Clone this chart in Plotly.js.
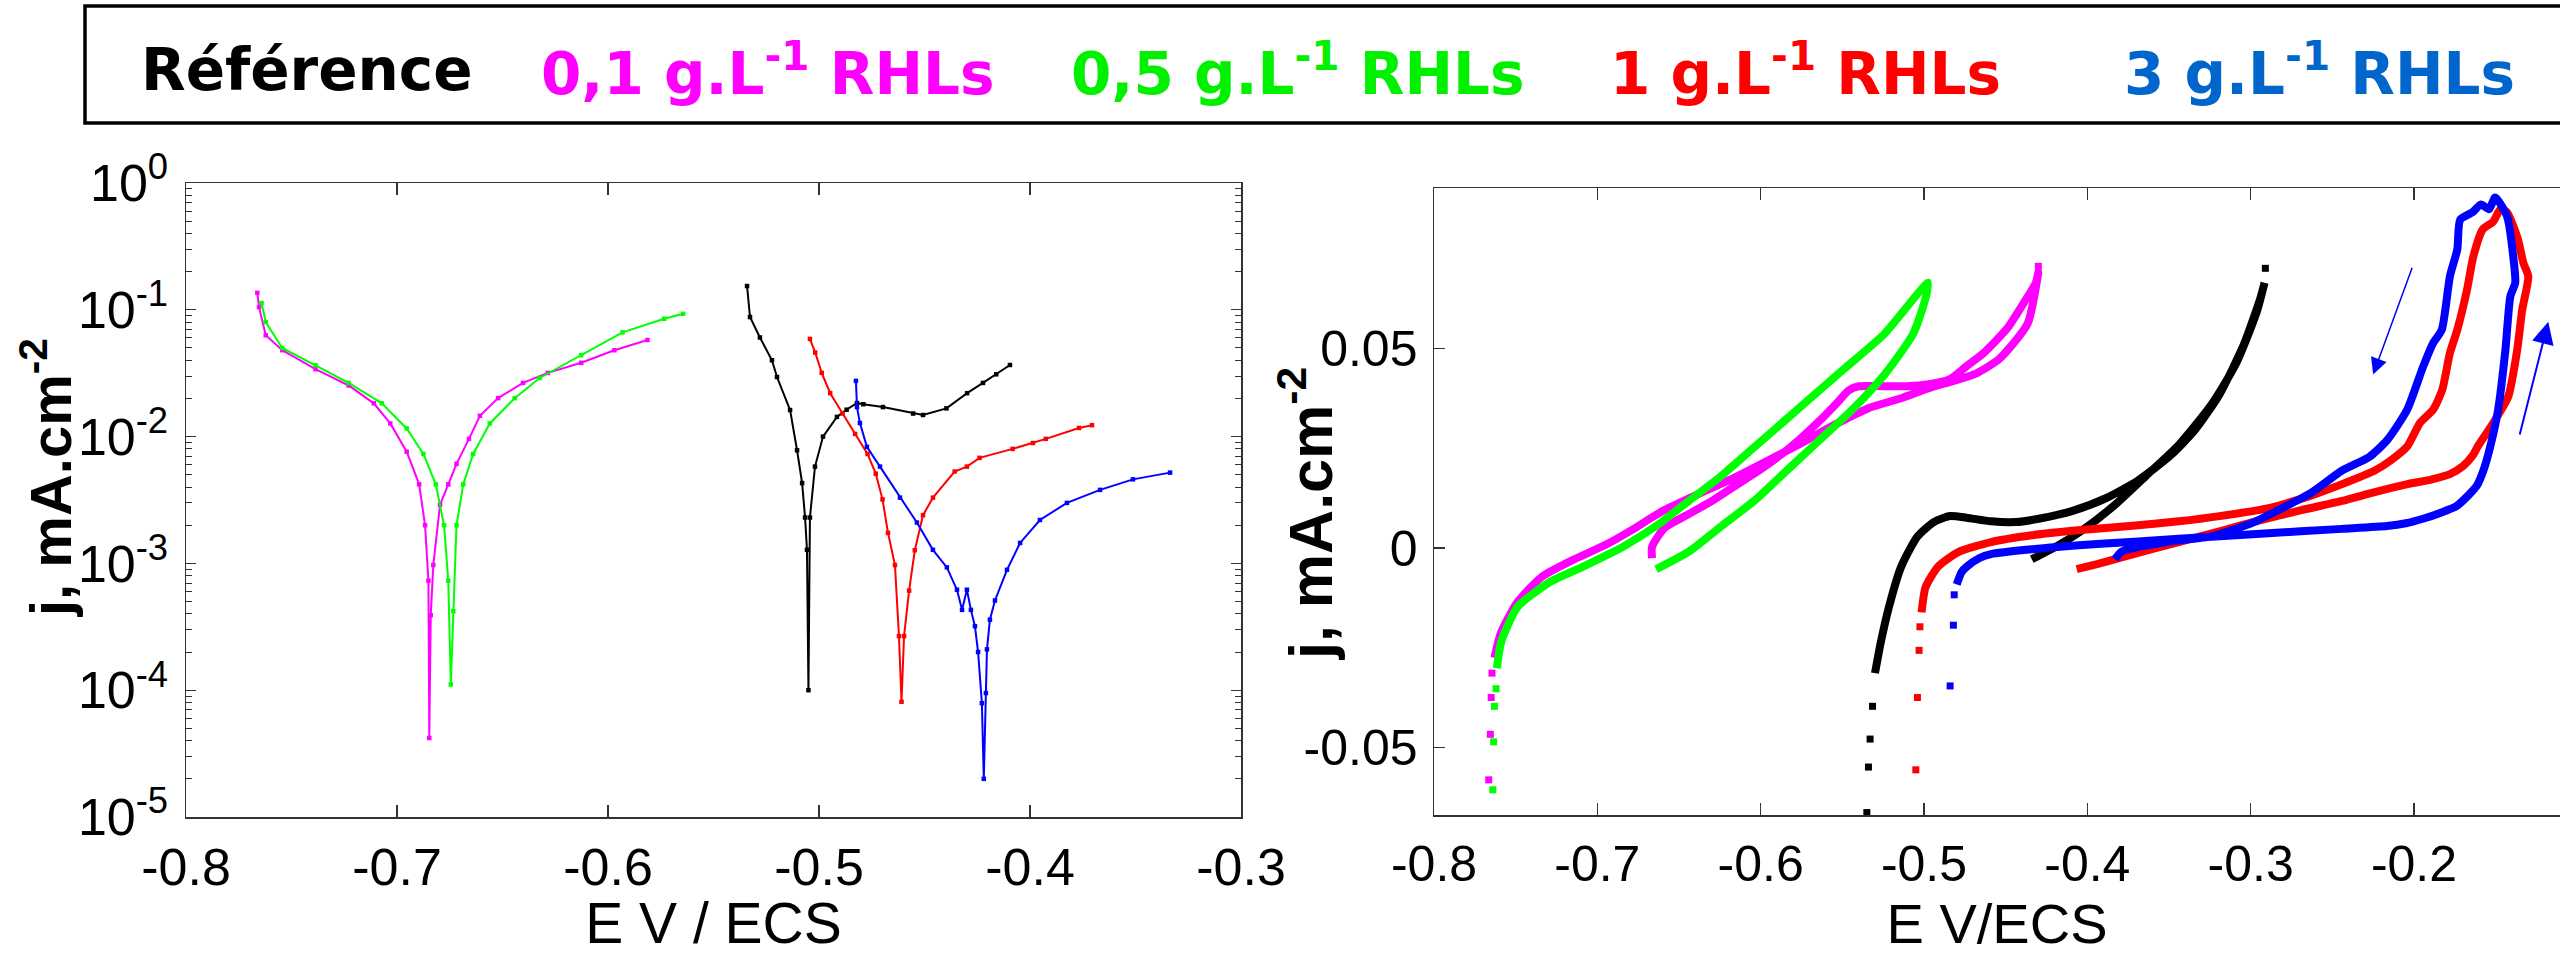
<!DOCTYPE html>
<html>
<head>
<meta charset="utf-8">
<script src="https://cdn.plot.ly/plotly-3.0.1.min.js"></script>
<style>
  html, body { margin: 0; padding: 0; background: #fff; overflow: hidden; }
  #chart { width: 2560px; height: 955px; }
</style>
</head>
<body>
<div id="chart"></div>
<script>
// ---------------- Series names / colours ----------------
const seriesNames = ["Référence", "0,1 g.L<sup>-1</sup> RHLs", "0,5 g.L<sup>-1</sup> RHLs", "1 g.L<sup>-1</sup> RHLs", "3 g.L<sup>-1</sup> RHLs"];

// ---------------- Left panel : Tafel curves (E V/ECS, j mA.cm-2) ----------------
const tafelE_ref = [-0.5341, -0.5327, -0.5280, -0.5223, -0.5199, -0.5137, -0.5104, -0.5080, -0.5066, -0.5057, -0.5050, -0.5043, -0.5019, -0.4981, -0.4915, -0.4869, -0.4820, -0.4790, -0.4697, -0.4554, -0.4507, -0.4396, -0.4298, -0.4223, -0.4160, -0.4095];
const tafelJ_ref = [0.154, 0.0877, 0.0605, 0.040, 0.0295, 0.0162, 0.0078, 0.0043, 0.0023, 0.00128, 0.00010, 0.0023, 0.0058, 0.0100, 0.0143, 0.0163, 0.0184, 0.0180, 0.0171, 0.0152, 0.0148, 0.0167, 0.0220, 0.0265, 0.0310, 0.0367];

const tafelE_01 = [-0.7662, -0.7654, -0.7622, -0.7544, -0.7386, -0.7229, -0.7110, -0.7032, -0.6954, -0.6895, -0.6867, -0.6851, -0.6847, -0.6840, -0.6828, -0.6796, -0.6757, -0.6718, -0.6659, -0.6607, -0.6521, -0.6403, -0.6285, -0.6127, -0.5970, -0.5813];
const tafelJ_01 = [0.136, 0.105, 0.063, 0.048, 0.034, 0.0253, 0.0183, 0.0127, 0.0076, 0.0042, 0.0020, 0.00073, 0.000042, 0.00039, 0.00097, 0.0029, 0.0042, 0.0061, 0.0096, 0.0146, 0.0201, 0.0265, 0.0318, 0.0382, 0.0480, 0.0578];

const tafelE_05 = [-0.7642, -0.7622, -0.7544, -0.7386, -0.7229, -0.7072, -0.6954, -0.6875, -0.6816, -0.6777, -0.6757, -0.6745, -0.6733, -0.6718, -0.6686, -0.6639, -0.6560, -0.6442, -0.6324, -0.6127, -0.5931, -0.5734, -0.5644];
const tafelJ_05 = [0.113, 0.080, 0.050, 0.0365, 0.0265, 0.0183, 0.0116, 0.0073, 0.0042, 0.0020, 0.00073, 0.000111, 0.00042, 0.0020, 0.0042, 0.0073, 0.0127, 0.0201, 0.0290, 0.0439, 0.0664, 0.0850, 0.0930];

const tafelE_1 = [-0.5043, -0.5018, -0.4987, -0.4947, -0.4888, -0.4829, -0.4770, -0.4731, -0.4699, -0.4673, -0.4640, -0.4621, -0.4609, -0.4597, -0.4573, -0.4546, -0.4507, -0.4460, -0.4357, -0.4299, -0.4239, -0.4082, -0.3986, -0.3925, -0.3768, -0.3706];
const tafelJ_1 = [0.0589, 0.046, 0.0318, 0.022, 0.0152, 0.0105, 0.0073, 0.0051, 0.0032, 0.00174, 0.00097, 0.000267, 0.000081, 0.000267, 0.00061, 0.00127, 0.0024, 0.0033, 0.0053, 0.0058, 0.0068, 0.0080, 0.0089, 0.0096, 0.0117, 0.0123];

const tafelE_3 = [-0.4825, -0.4820, -0.4806, -0.4773, -0.4711, -0.4616, -0.4536, -0.4460, -0.4394, -0.4346, -0.4322, -0.4299, -0.4280, -0.4261, -0.4246, -0.4228, -0.4219, -0.4209, -0.4204, -0.4190, -0.4166, -0.4109, -0.4047, -0.3953, -0.3825, -0.3668, -0.3512, -0.3336];
const tafelJ_3 = [0.0275, 0.0171, 0.0128, 0.0083, 0.0058, 0.0033, 0.0021, 0.00128, 0.00093, 0.00062, 0.00043, 0.00062, 0.00043, 0.00032, 0.00020, 0.000079, 0.000020, 0.000095, 0.00021, 0.00036, 0.00051, 0.00089, 0.00145, 0.0022, 0.0030, 0.0038, 0.0046, 0.0052];

// ---------------- Right panel : cyclic voltammetry loops ----------------
const cvE_ref = [-0.434, -0.419, -0.404, -0.384, -0.364, -0.344, -0.324, -0.309, -0.2965, -0.2915, -0.294, -0.304, -0.319, -0.334, -0.349, -0.369, -0.389, -0.409, -0.429, -0.444, -0.459, -0.474, -0.484, -0.494, -0.504, -0.514, -0.5215, -0.5265, -0.530];
const cvJ_ref = [-0.0028, 0.0004, 0.0042, 0.0105, 0.0181, 0.0258, 0.0359, 0.0461, 0.0588, 0.0664, 0.0626, 0.0511, 0.0385, 0.0296, 0.0232, 0.0169, 0.0124, 0.0093, 0.0074, 0.0065, 0.0067, 0.0076, 0.0080, 0.0065, 0.0029, -0.0047, -0.0148, -0.0237, -0.0313];
const cvEdots_ref = [-0.5315, -0.533, -0.534, -0.535, -0.291];
const cvJdots_ref = [-0.0396, -0.0478, -0.0548, -0.0662, 0.0700];

const cvE_01 = [-0.6665, -0.6665, -0.659, -0.644, -0.629, -0.614, -0.599, -0.584, -0.574, -0.564, -0.554, -0.546, -0.540, -0.525, -0.510, -0.497, -0.484, -0.474, -0.464, -0.449, -0.439, -0.4315, -0.430, -0.4365, -0.454, -0.469, -0.484, -0.497, -0.514, -0.534, -0.554, -0.574, -0.594, -0.614, -0.634, -0.659, -0.679, -0.694, -0.714, -0.734, -0.749, -0.759, -0.763];
const cvJ_01 = [-0.0025, 0.0003, 0.0050, 0.0085, 0.0120, 0.0160, 0.0200, 0.0245, 0.0280, 0.0318, 0.0360, 0.0395, 0.0405, 0.0405, 0.0405, 0.0410, 0.0423, 0.0455, 0.0486, 0.0550, 0.0613, 0.0664, 0.0690, 0.0562, 0.0473, 0.0435, 0.0416, 0.0400, 0.0375, 0.0350, 0.0310, 0.0265, 0.0222, 0.0180, 0.0143, 0.0095, 0.0045, 0.0010, -0.0028, -0.0072, -0.0136, -0.0212, -0.0275];
const cvEdots_01 = [-0.7645, -0.765, -0.7655, -0.7665, -0.430];
const cvJdots_01 = [-0.0313, -0.0374, -0.0466, -0.0580, 0.0705];

const cvE_05 = [-0.664, -0.644, -0.624, -0.604, -0.584, -0.564, -0.544, -0.524, -0.5065, -0.499, -0.4975, -0.524, -0.549, -0.574, -0.599, -0.624, -0.644, -0.664, -0.684, -0.709, -0.729, -0.749, -0.759, -0.7615];
const cvJ_05 = [-0.0053, -0.0009, 0.0055, 0.0118, 0.0194, 0.0270, 0.0346, 0.0435, 0.0537, 0.0626, 0.0664, 0.0537, 0.0448, 0.0359, 0.0270, 0.0181, 0.0118, 0.0055, 0.0004, -0.0047, -0.0085, -0.0148, -0.0237, -0.0301];
const cvEdots_05 = [-0.762, -0.763, -0.7635, -0.764];
const cvJdots_05 = [-0.0352, -0.0396, -0.0485, -0.0605];

const cvE_1 = [-0.4065, -0.394, -0.369, -0.344, -0.319, -0.294, -0.269, -0.244, -0.224, -0.204, -0.189, -0.178, -0.170, -0.164, -0.161, -0.1515, -0.1423, -0.1368, -0.1337, -0.130, -0.133, -0.1365, -0.143, -0.147, -0.1515, -0.158, -0.1637, -0.1675, -0.1735, -0.178, -0.1827, -0.1883, -0.1962, -0.2042, -0.214, -0.224, -0.244, -0.264, -0.289, -0.319, -0.344, -0.374, -0.404, -0.434, -0.459, -0.479, -0.4915, -0.499, -0.5015];
const cvJ_1 = [-0.0053, -0.0040, -0.0012, 0.0015, 0.0042, 0.0070, 0.0095, 0.0118, 0.0140, 0.0160, 0.0172, 0.0185, 0.0205, 0.0232, 0.0254, 0.0313, 0.0379, 0.0496, 0.0597, 0.0680, 0.0713, 0.0775, 0.0840, 0.0848, 0.0817, 0.0797, 0.0729, 0.0647, 0.0546, 0.0488, 0.0396, 0.0346, 0.0314, 0.0254, 0.0220, 0.0194, 0.0160, 0.0130, 0.0100, 0.0080, 0.0067, 0.0055, 0.0045, 0.0032, 0.0015, -0.0010, -0.0047, -0.0098, -0.0161];
const cvEdots_1 = [-0.5025, -0.503, -0.504, -0.505];
const cvJdots_1 = [-0.0197, -0.0256, -0.0374, -0.0555];

const cvE_3 = [-0.480, -0.477, -0.474, -0.466, -0.459, -0.434, -0.394, -0.344, -0.294, -0.244, -0.2165, -0.205, -0.194, -0.184, -0.174, -0.166, -0.1615, -0.157, -0.1533, -0.1485, -0.144, -0.141, -0.138, -0.139, -0.143, -0.1503, -0.154, -0.159, -0.164, -0.1717, -0.1735, -0.178, -0.183, -0.1883, -0.1944, -0.2042, -0.2164, -0.2274, -0.244, -0.263, -0.284, -0.299, -0.324, -0.350, -0.379, -0.383];
const cvJ_3 = [-0.0091, -0.0060, -0.0047, -0.0025, -0.0015, -0.0003, 0.0010, 0.0023, 0.0036, 0.0048, 0.0055, 0.0062, 0.0074, 0.0088, 0.0105, 0.0135, 0.0156, 0.0200, 0.0254, 0.0346, 0.0497, 0.0630, 0.0664, 0.0722, 0.0830, 0.0877, 0.0848, 0.0860, 0.0841, 0.0822, 0.0747, 0.0680, 0.0546, 0.0513, 0.0454, 0.0346, 0.0270, 0.0228, 0.0194, 0.0138, 0.0093, 0.0063, 0.0029, 0.0016, -0.0009, -0.0028];
const cvEdots_3 = [-0.484, -0.482, -0.4815];
const cvJdots_3 = [-0.0345, -0.0193, -0.0117];

// ---------------- Tick labels / axis titles ----------------
const leftXTicks = [-0.8, -0.7, -0.6, -0.5, -0.4, -0.3];
const leftXTickText = ["-0.8", "-0.7", "-0.6", "-0.5", "-0.4", "-0.3"];
const leftYTicks = [1e-5, 1e-4, 1e-3, 1e-2, 1e-1, 1];
const leftYTickText = ["10<sup>-5</sup>", "10<sup>-4</sup>", "10<sup>-3</sup>", "10<sup>-2</sup>", "10<sup>-1</sup>", "10<sup>0</sup>"];
const rightXTicks = [-0.8, -0.7, -0.6, -0.5, -0.4, -0.3, -0.2];
const rightXTickText = ["-0.8", "-0.7", "-0.6", "-0.5", "-0.4", "-0.3", "-0.2"];
const rightYTicks = [-0.05, 0, 0.05];
const rightYTickText = ["-0.05", "0", "0.05"];
const yTitleText = "j, mA.cm<sup>-2</sup>";

// ---------------- Styling ----------------
const colors = {ref: "#000000", c01: "#FF00FF", c05: "#00FF00", c1: "#FF0000", c3: "#0000FF"};
const headerColors = ["#000000", "#FF00FF", "#00F000", "#FF0000", "#0066CC"];
const headerX = [139, 539, 1069, 1608, 2122];
const W = 2560, H = 955;
const axisColor = "#333333";
const FONT = "Liberation Sans, Arial, Helvetica, sans-serif";
const tickFont = {family: FONT, size: 52, color: "#000"};

function tafel(x, y, color, name) {
  return {x: x, y: y, xaxis: "x", yaxis: "y", type: "scatter", mode: "lines+markers",
          name: name, showlegend: false,
          line: {color: color, width: 2},
          marker: {symbol: "square", size: 4.5, color: color}};
}
function cv(x, y, color, name) {
  return {x: x, y: y, xaxis: "x2", yaxis: "y2", type: "scatter", mode: "lines",
          name: name, showlegend: false,
          line: {color: color, width: 8, shape: "spline", smoothing: 0.6}};
}
function dots(x, y, color, name) {
  return {x: x, y: y, xaxis: "x2", yaxis: "y2", type: "scatter", mode: "markers",
          name: name, showlegend: false,
          marker: {symbol: "square", size: 7, color: color}};
}

const data = [
  tafel(tafelE_01, tafelJ_01, colors.c01, seriesNames[1]),
  tafel(tafelE_05, tafelJ_05, colors.c05, seriesNames[2]),
  tafel(tafelE_ref, tafelJ_ref, colors.ref, seriesNames[0]),
  tafel(tafelE_1, tafelJ_1, colors.c1, seriesNames[3]),
  tafel(tafelE_3, tafelJ_3, colors.c3, seriesNames[4]),
  cv(cvE_01, cvJ_01, colors.c01, seriesNames[1]),
  dots(cvEdots_01, cvJdots_01, colors.c01, seriesNames[1]),
  cv(cvE_05, cvJ_05, colors.c05, seriesNames[2]),
  dots(cvEdots_05, cvJdots_05, colors.c05, seriesNames[2]),
  cv(cvE_ref, cvJ_ref, colors.ref, seriesNames[0]),
  dots(cvEdots_ref, cvJdots_ref, colors.ref, seriesNames[0]),
  cv(cvE_1, cvJ_1, colors.c1, seriesNames[3]),
  dots(cvEdots_1, cvJdots_1, colors.c1, seriesNames[3]),
  cv(cvE_3, cvJ_3, colors.c3, seriesNames[4]),
  dots(cvEdots_3, cvJdots_3, colors.c3, seriesNames[4])
];

const commonAxis = {
  showline: true, linecolor: axisColor, linewidth: 1.5,
  ticks: "inside", tickcolor: axisColor, tickwidth: 1.2, ticklen: 12,
  showgrid: false, zeroline: false, tickfont: tickFont, tickmode: "array"
};

const headerAnnotations = seriesNames.map((t, i) => ({
  text: t, xref: "paper", yref: "paper",
  x: headerX[i] / W, y: 1 - 70 / H, xanchor: "left", yanchor: "middle",
  showarrow: false,
  font: {family: "DejaVu Sans, sans-serif", size: 58, color: headerColors[i], weight: "bold"}
}));

const yTitleAnnotations = [
  {text: yTitleText, xref: "paper", yref: "paper", x: 46 / W, y: 1 - 478 / H,
   xanchor: "center", yanchor: "middle", textangle: -90, showarrow: false,
   font: {family: FONT, size: 58, color: "#000", weight: "bold"}},
  {text: yTitleText, xref: "paper", yref: "paper", x: 1306 / W, y: 1 - 514 / H,
   xanchor: "center", yanchor: "middle", textangle: -90, showarrow: false,
   font: {family: FONT, size: 61, color: "#000", weight: "bold"}}
];

const layout = {
  width: W, height: H,
  margin: {l: 0, r: 0, t: 0, b: 0},
  paper_bgcolor: "#fff", plot_bgcolor: "#fff",
  showlegend: false,
  xaxis: Object.assign({}, commonAxis, {
    domain: [186 / W, 1241 / W], range: [-0.8, -0.3], anchor: "y", mirror: "allticks",
    tickvals: leftXTicks, ticktext: leftXTickText, ticklabelstandoff: 4,
    title: {text: "E V / ECS", font: {family: FONT, size: 57, color: "#000"}, standoff: 18}
  }),
  yaxis: Object.assign({}, commonAxis, {
    domain: [1 - 817 / H, 1 - 183 / H], type: "log", range: [-5, 0], anchor: "x", mirror: "allticks",
    tickvals: leftYTicks, ticktext: leftYTickText, ticklen: 10, ticklabelstandoff: 6,
    minor: {ticks: "inside", ticklen: 6, tickwidth: 1, tickcolor: axisColor, dtick: "D1", showgrid: false}
  }),
  xaxis2: Object.assign({}, commonAxis, {
    domain: [1434 / W, 1], range: [-0.8, -0.1106], anchor: "y2", mirror: "allticks",
    tickvals: rightXTicks, ticktext: rightXTickText, ticklabelstandoff: 4,
    tickfont: Object.assign({}, tickFont, {size: 50}),
    title: {text: "E V/ECS", font: {family: FONT, size: 56, color: "#000"}, standoff: 20}
  }),
  yaxis2: Object.assign({}, commonAxis, {
    domain: [1 - 815 / H, 1 - 188 / H], range: [-0.0668, 0.0901], anchor: "x2", mirror: false,
    tickvals: rightYTicks, ticktext: rightYTickText, ticklen: 11, ticklabelstandoff: 5,
    tickfont: Object.assign({}, tickFont, {size: 50})
  }),
  shapes: [
    {type: "rect", xref: "paper", yref: "paper", x0: 85 / W, x1: 1.02, y0: 1 - 123 / H, y1: 1 - 6 / H,
     line: {color: "#000", width: 3.5}, fillcolor: "rgba(0,0,0,0)"}
  ],
  annotations: headerAnnotations.concat(yTitleAnnotations, [
    {xref: "x2", yref: "y2", axref: "x2", ayref: "y2", x: -0.225, y: 0.0434, ax: -0.1993, ay: 0.0722,
     showarrow: true, arrowhead: 2, arrowsize: 2.2, arrowwidth: 1.5, arrowcolor: "#0000FF", text: " "},
    {xref: "x2", yref: "y2", axref: "x2", ayref: "y2", x: -0.1178, y: 0.0566, ax: -0.1368, ay: 0.0259,
     showarrow: true, arrowhead: 2, arrowsize: 2.2, arrowwidth: 2, arrowcolor: "#0000FF", text: " "}
  ])
};

Plotly.newPlot("chart", data, layout, {staticPlot: true, displayModeBar: false});
</script>
</body>
</html>
